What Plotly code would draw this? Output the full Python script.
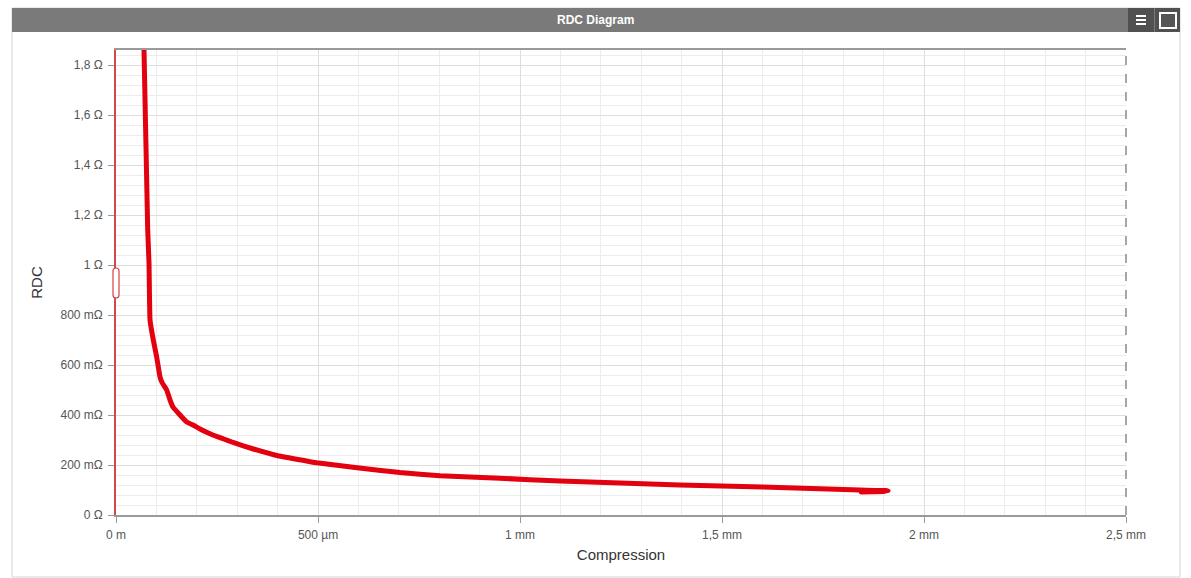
import plotly.graph_objects as go

# Compression (µm) vs. RDC (mΩ)
compression_um = [66, 69.3, 78.5, 81.7, 84.2, 92.3, 100.7, 108.9, 114.6, 125.5, 133.7, 141,
                  158.4, 175, 190.6, 208, 237, 265, 290, 340, 398, 497, 597, 703, 802,
                  950, 1099, 1396, 1601, 1842, 1911, 1845, 1905]
rdc_mohm = [1990, 1860, 1140, 1008, 780, 700, 632, 552, 528, 500, 460, 432,
            400, 372, 360, 344, 322, 305, 290, 264, 238, 209, 189, 170, 157,
            147, 136, 120, 112, 100, 97, 92, 94]

x_tickvals = [0, 500, 1000, 1500, 2000, 2500]
x_ticktext = ["0 m", "500 µm", "1 mm", "1,5 mm", "2 mm", "2,5 mm"]
y_tickvals = [0, 200, 400, 600, 800, 1000, 1200, 1400, 1600, 1800]
y_ticktext = ["0 Ω", "200 mΩ", "400 mΩ", "600 mΩ", "800 mΩ", "1 Ω",
              "1,2 Ω", "1,4 Ω", "1,6 Ω", "1,8 Ω"]

W, H = 1191, 578
L, R, T, B = 116, 1126, 50, 515
X_MAX, Y_MAX = 2500, 1860


def px(p):
    return (p - L) / (R - L)


def py(p):
    return (B - p) / (B - T)


FONT = "Liberation Sans, Arial, sans-serif"

fig = go.Figure()
fig.add_trace(go.Scatter(
    x=compression_um, y=rdc_mohm, mode="lines",
    line=dict(color="#e3000f", width=5, shape="spline", smoothing=0.3),
    hoverinfo="skip", showlegend=False,
))

shapes = [
    # outer panel border
    dict(type="rect", xref="paper", yref="paper", x0=px(12), x1=px(1180), y0=py(577), y1=py(8),
         line=dict(color="#d4d4d4", width=1), fillcolor="rgba(0,0,0,0)", layer="below"),
    # title bar
    dict(type="rect", xref="paper", yref="paper", x0=px(12), x1=px(1180), y0=py(32), y1=py(8),
         line=dict(width=0), fillcolor="#7a7a7a", layer="below"),
    # menu button
    dict(type="rect", xref="paper", yref="paper", x0=px(1128), x1=px(1154), y0=py(32), y1=py(8),
         line=dict(width=0), fillcolor="#505050"),
    # maximise button
    dict(type="rect", xref="paper", yref="paper", x0=px(1155), x1=px(1180), y0=py(32), y1=py(8),
         line=dict(width=0), fillcolor="#505050"),
    dict(type="rect", xref="paper", yref="paper", x0=px(1160), x1=px(1176), y0=py(28), y1=py(13),
         line=dict(color="white", width=2), fillcolor="#555555"),
    # right plot border (dashed)
    dict(type="line", xref="paper", yref="paper", x0=1, x1=1, y0=0, y1=1,
         line=dict(color="#8a8a8a", width=1.5, dash="dash")),
]
# menu icon bars
for yy in (16, 20, 24):
    shapes.append(dict(type="line", xref="paper", yref="paper", x0=px(1136), x1=px(1146),
                       y0=py(yy), y1=py(yy), line=dict(color="white", width=2)))

# zoom handle on the y axis (rounded outline), in paper units
hx0, hx1, hxm = px(113), px(119), px(116)
hy0, hy1 = py(298), py(268)
ry = 3 / (B - T)
shapes.append(dict(
    type="path", xref="paper", yref="paper", layer="above",
    path=(f"M {hx0},{hy0 + ry} L {hx0},{hy1 - ry} Q {hx0},{hy1} {hxm},{hy1} "
          f"Q {hx1},{hy1} {hx1},{hy1 - ry} L {hx1},{hy0 + ry} Q {hx1},{hy0} {hxm},{hy0} "
          f"Q {hx0},{hy0} {hx0},{hy0 + ry} Z"),
    line=dict(color="#d84040", width=1.2), fillcolor="white",
))

fig.update_layout(
    width=W, height=H,
    margin=dict(l=L, r=W - R, t=T, b=H - B, pad=0),
    paper_bgcolor="white", plot_bgcolor="white",
    font=dict(family=FONT, size=12, color="#555555"),
    shapes=shapes,
    annotations=[dict(text="<b>RDC Diagram</b>", xref="paper", yref="paper",
                      x=px(595), y=py(20), xanchor="center", yanchor="middle",
                      showarrow=False,
                      font=dict(family=FONT, size=12, color="white"))],
    xaxis=dict(
        range=[0, X_MAX], tickvals=x_tickvals, ticktext=x_ticktext,
        showgrid=True, gridcolor="#dedede", gridwidth=1,
        minor=dict(dtick=100, tick0=0, showgrid=True, gridcolor="#ececec", gridwidth=1),
        showline=True, linecolor="#9a9a9a", linewidth=2, mirror=True,
        ticks="outside", ticklen=6, tickcolor="#9a9a9a", tickwidth=1,
        ticklabelstandoff=2,
        zeroline=False, fixedrange=True,
        title=dict(text="Compression", standoff=8,
                   font=dict(family=FONT, size=15, color="#333333")),
    ),
    yaxis=dict(
        range=[0, Y_MAX], tickvals=y_tickvals, ticktext=y_ticktext,
        showgrid=True, gridcolor="#dedede", gridwidth=1,
        minor=dict(dtick=40, tick0=0, showgrid=True, gridcolor="#ececec", gridwidth=1),
        showline=True, linecolor="#d04848", linewidth=1.5,
        ticks="outside", ticklen=6, tickcolor="#9a9a9a", tickwidth=1,
        ticklabelstandoff=3,
        zeroline=False, fixedrange=True,
        title=dict(text="RDC", standoff=14,
                   font=dict(family=FONT, size=15, color="#333333")),
    ),
)

fig.write_html("out.html")
